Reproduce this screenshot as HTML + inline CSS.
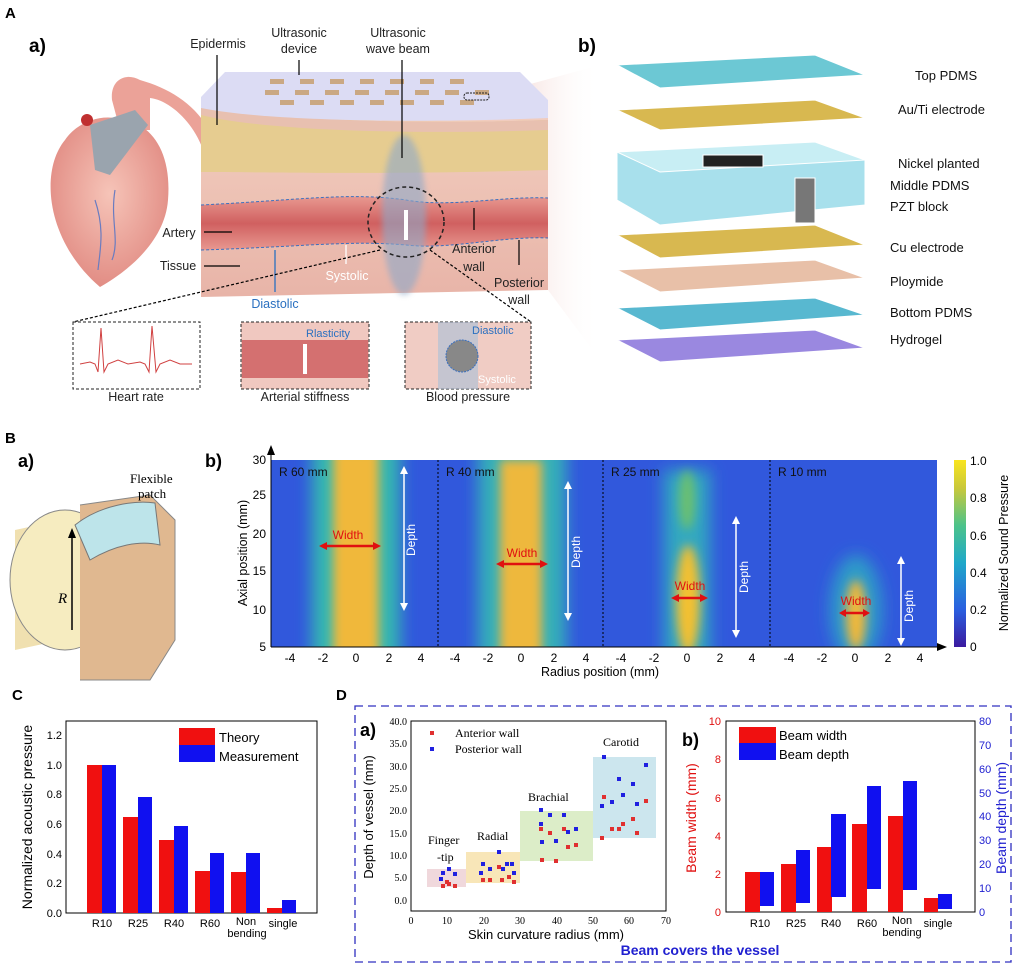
<!DOCTYPE html>
<html><head><meta charset="utf-8"><style>
body{margin:0;background:#fff;}
svg{display:block;font-family:"Liberation Sans",sans-serif;}
</style></head><body>
<svg width="1024" height="970" viewBox="0 0 1024 970" xmlns="http://www.w3.org/2000/svg">
<defs>
<linearGradient id="cb" x1="0" y1="1" x2="0" y2="0">
<stop offset="0" stop-color="#3b1a9f"/><stop offset="0.2" stop-color="#2a5fe0"/><stop offset="0.45" stop-color="#1fa8c9"/><stop offset="0.65" stop-color="#4cc38a"/><stop offset="0.85" stop-color="#c9c83a"/><stop offset="1" stop-color="#f9e51e"/></linearGradient>
<filter id="bl" x="-50%" y="-50%" width="200%" height="200%"><feGaussianBlur stdDeviation="8"/></filter>
<filter id="bl2" x="-50%" y="-50%" width="200%" height="200%"><feGaussianBlur stdDeviation="5"/></filter>
<filter id="bl3" x="-50%" y="-50%" width="200%" height="200%"><feGaussianBlur stdDeviation="3"/></filter>
<radialGradient id="heart" cx="0.5" cy="0.45" r="0.6"><stop offset="0" stop-color="#f6c4b8"/><stop offset="1" stop-color="#e08880"/></radialGradient>
<linearGradient id="tissue" x1="0" y1="0" x2="0" y2="1"><stop offset="0" stop-color="#f2cfc0"/><stop offset="1" stop-color="#e8b4a8"/></linearGradient>
<linearGradient id="art" x1="0" y1="0" x2="0" y2="1"><stop offset="0" stop-color="#e89890"/><stop offset="0.5" stop-color="#d06060"/><stop offset="1" stop-color="#e89890"/></linearGradient>
<linearGradient id="fan" x1="0" y1="0" x2="1" y2="0"><stop offset="0" stop-color="#e8b0a8"/><stop offset="1" stop-color="#fff" stop-opacity="0"/></linearGradient>
<clipPath id="hm"><rect x="271" y="460" width="666" height="187"/></clipPath>
</defs>

<!-- Panel A -->
<text x="5" y="18" font-size="15" font-weight="bold">A</text>
<text x="29" y="52" font-size="19" font-weight="bold">a)</text>
<text x="578" y="52" font-size="19" font-weight="bold">b)</text>
<!-- fan to b -->
<path d="M490 95 L600 65 L600 360 L548 290Z" fill="url(#fan)" opacity="0.7"/>
<!-- heart -->
<path d="M112 100 C110 80 125 72 140 80 C175 90 205 110 218 150 L232 232 L222 236 L206 160 C198 125 170 100 150 98 L150 130 L120 130Z" fill="#eba298"/>
<path d="M65 140 C40 170 45 240 100 287 C130 270 165 240 168 200 C172 150 150 120 115 118 C95 115 75 125 65 140Z" fill="url(#heart)"/>
<path d="M90 125 L135 110 L148 125 L110 175 L95 170Z" fill="#9aa4ae"/>
<path d="M95 200 C105 230 100 250 98 270 M115 190 C110 220 120 240 112 260" stroke="#6a7cc0" fill="none" stroke-width="1.2"/>
<circle cx="87" cy="120" r="6" fill="#c03030"/>
<!-- skin block -->
<path d="M201 100 L548 100 L548 290 L201 297Z" fill="url(#tissue)"/>
<path d="M201 103 C260 120 400 125 548 120 L548 170 C400 175 260 172 201 172Z" fill="#e6cc90"/>
<path d="M201 103 C260 120 400 125 548 120 L548 130 C400 135 260 130 201 115Z" fill="#e8c0b0"/>
<path d="M201 97 L225 72 L520 72 L548 100 L548 118 C400 124 260 120 201 108Z" fill="#dcdcf4"/>
<g fill="#c8a070" opacity="0.85">
<rect x="270" y="79" width="14" height="5"/><rect x="300" y="79" width="14" height="5"/><rect x="330" y="79" width="14" height="5"/><rect x="360" y="79" width="14" height="5"/><rect x="390" y="79" width="14" height="5"/><rect x="420" y="79" width="14" height="5"/><rect x="450" y="79" width="14" height="5"/>
<rect x="265" y="90" width="14" height="5"/><rect x="295" y="90" width="14" height="5"/><rect x="325" y="90" width="14" height="5"/><rect x="355" y="90" width="14" height="5"/><rect x="385" y="90" width="14" height="5"/><rect x="415" y="90" width="14" height="5"/><rect x="445" y="90" width="14" height="5"/><rect x="475" y="90" width="14" height="5"/>
<rect x="280" y="100" width="14" height="5"/><rect x="310" y="100" width="14" height="5"/><rect x="340" y="100" width="14" height="5"/><rect x="370" y="100" width="14" height="5"/><rect x="400" y="100" width="14" height="5"/><rect x="430" y="100" width="14" height="5"/><rect x="460" y="100" width="14" height="5"/>
</g>
<rect x="464" y="93" width="25" height="7" rx="3" fill="none" stroke="#222" stroke-dasharray="2 1"/>
<path d="M201 205 C300 200 350 192 406 200 C450 208 500 196 548 198 L548 238 C500 236 450 250 406 245 C350 240 300 247 201 250Z" fill="url(#art)"/>
<path d="M201 205 C300 200 350 192 406 200 C450 208 500 196 548 198" stroke="#3a70c0" fill="none" stroke-dasharray="3 2"/>
<path d="M201 250 C300 247 350 240 406 245 C450 250 500 236 548 238" stroke="#3a70c0" fill="none" stroke-dasharray="3 2"/>
<ellipse cx="404" cy="215" rx="22" ry="80" fill="#8ea8c8" opacity="0.6" filter="url(#bl3)"/>
<ellipse cx="406" cy="222" rx="38" ry="35" fill="none" stroke="#222" stroke-dasharray="4 3" stroke-width="1.5"/>
<line x1="406" y1="210" x2="406" y2="240" stroke="#fff" stroke-width="4"/>
<g stroke="#000" stroke-width="1.2" fill="none">
<line x1="217" y1="55" x2="217" y2="125"/><line x1="299" y1="60" x2="299" y2="75"/><line x1="402" y1="60" x2="402" y2="158"/>
<line x1="204" y1="232" x2="232" y2="232"/><line x1="204" y1="266" x2="240" y2="266"/>
<line x1="474" y1="230" x2="474" y2="208"/><line x1="519" y1="265" x2="519" y2="240"/>
</g>
<line x1="275" y1="292" x2="275" y2="250" stroke="#2a70c0" stroke-width="1.3"/>
<line x1="346" y1="264" x2="346" y2="245" stroke="#fff" stroke-width="1.3"/>
<g stroke="#000" stroke-dasharray="3 2" stroke-width="1.2"><line x1="380" y1="250" x2="73" y2="322"/><line x1="430" y1="250" x2="531" y2="322"/></g>
<g font-size="12.5" fill="#222" text-anchor="middle">
<text x="218" y="48">Epidermis</text>
<text x="299" y="37">Ultrasonic</text><text x="299" y="53">device</text>
<text x="398" y="37">Ultrasonic</text><text x="398" y="53">wave beam</text>
<text x="179" y="237">Artery</text>
<text x="178" y="270">Tissue</text>
<text x="474" y="253">Anterior</text><text x="474" y="271">wall</text>
<text x="519" y="287">Posterior</text><text x="519" y="304">wall</text>
<text x="347" y="280" fill="#fff">Systolic</text>
<text x="275" y="308" fill="#2a70c0">Diastolic</text>
<text x="136" y="401">Heart rate</text>
<text x="305" y="401">Arterial stiffness</text>
<text x="468" y="401">Blood pressure</text>
</g>
<rect x="73" y="322" width="127" height="67" fill="#fff" stroke="#222" stroke-dasharray="3 2"/>
<path d="M80 364 L90 362 L95 364 L98 372 L101 328 L104 372 L108 364 L118 360 L128 364 L140 362 L145 364 L149 372 L152 326 L156 372 L160 364 L170 360 L180 364 L192 364" fill="none" stroke="#d04040"/>
<rect x="241" y="322" width="128" height="67" fill="#f0c8c0" stroke="#222" stroke-dasharray="3 2"/>
<rect x="242" y="340" width="126" height="38" fill="#d47070"/>
<line x1="305" y1="344" x2="305" y2="374" stroke="#fff" stroke-width="4"/>
<text x="306" y="337" font-size="11" fill="#2a70c0">Rlasticity</text>
<rect x="405" y="322" width="126" height="67" fill="#f0ccc4" stroke="#222" stroke-dasharray="3 2"/>
<rect x="438" y="322" width="40" height="67" fill="#a8c0d8" opacity="0.6"/>
<circle cx="462" cy="356" r="16" fill="#888" stroke="#3a70c0" stroke-dasharray="2 1"/>
<text x="472" y="334" font-size="11" fill="#2a70c0">Diastolic</text>
<text x="478" y="383" font-size="11" fill="#fff">Systolic</text>

<g stroke="#fff" stroke-width="1">
<path d="M617 65 L815 55 L865 75 L660 88Z" fill="#6cc8d4"/>
<path d="M617 110 L815 100 L865 118 L660 130Z" fill="#d8b850"/>
<path d="M617 152 L815 142 L865 160 L865 205 L660 225 L617 200Z" fill="#a8e0ec"/>
<path d="M617 152 L815 142 L865 160 L660 172Z" fill="#c8eef4"/>
<rect x="703" y="155" width="60" height="12" fill="#222"/>
<rect x="795" y="178" width="20" height="45" fill="#777"/>
<path d="M617 235 L815 225 L865 245 L660 258Z" fill="#d8b850"/>
<path d="M617 270 L815 260 L865 278 L660 292Z" fill="#e8c0a8"/>
<path d="M617 308 L815 298 L865 315 L660 330Z" fill="#58b8d0"/>
<path d="M617 340 L815 330 L865 348 L660 362Z" fill="#9a88e0"/>
</g>
<g font-size="13" fill="#111">
<text x="915" y="80">Top PDMS</text>
<text x="898" y="114">Au/Ti electrode</text>
<text x="898" y="168">Nickel planted</text>
<text x="890" y="190">Middle PDMS</text>
<text x="890" y="211">PZT block</text>
<text x="890" y="252">Cu electrode</text>
<text x="890" y="286">Ploymide</text>
<text x="890" y="317">Bottom PDMS</text>
<text x="890" y="344">Hydrogel</text>
</g>

<!-- Panel B -->
<text x="5" y="443" font-size="15" font-weight="bold">B</text>
<text x="18" y="467" font-size="18" font-weight="bold">a)</text>
<text x="205" y="467" font-size="18" font-weight="bold">b)</text>
<path d="M15 530 L155 500 L155 620 L15 650Z" fill="#f0e0b0"/>
<ellipse cx="65" cy="580" rx="55" ry="70" fill="#f6ecc0" stroke="#888"/>
<path d="M80 505 L150 495 L175 520 L175 640 L150 680 L80 680" fill="#e0b890" stroke="#888"/>
<path d="M75 525 C100 505 135 500 155 503 L160 545 C140 540 115 545 90 560Z" fill="#bde4ea" stroke="#777"/>
<line x1="72" y1="630" x2="72" y2="535" stroke="#000" stroke-width="1.5"/>
<polygon points="72,528 68,538 76,538"/>
<text x="58" y="603" font-size="15" font-style="italic" font-family="Liberation Serif,serif">R</text>
<text x="130" y="483" font-size="13" font-family="Liberation Serif,serif">Flexible</text>
<text x="138" y="498" font-size="13" font-family="Liberation Serif,serif">patch</text>

<g clip-path="url(#hm)">
<rect x="271" y="460" width="666" height="187" fill="#3158dc"/>
<g filter="url(#bl)">
<rect x="312" y="440" width="88" height="230" fill="#34b8b0"/>
<rect x="478" y="440" width="88" height="230" fill="#34b0b8"/>
<rect x="664" y="470" width="46" height="200" fill="#30a8c0"/>
<ellipse cx="856" cy="610" rx="26" ry="55" fill="#2f9cc8"/>
</g>
<g filter="url(#bl2)">
<rect x="333" y="450" width="46" height="210" fill="#f0b83a"/>
<rect x="500" y="460" width="42" height="200" fill="#eeb83c"/>
<ellipse cx="688" cy="600" rx="12" ry="55" fill="#f2c030"/>
<ellipse cx="687" cy="500" rx="8" ry="30" fill="#6cc070"/>
<ellipse cx="856" cy="615" rx="10" ry="35" fill="#f0b83a"/>
</g>
</g>
<g stroke="#000" stroke-dasharray="2 2"><line x1="438" y1="460" x2="438" y2="647"/><line x1="603" y1="460" x2="603" y2="647"/><line x1="770" y1="460" x2="770" y2="647"/></g>
<line x1="271" y1="452" x2="271" y2="647" stroke="#000"/><polygon points="271,445 267,455 275,455"/>
<line x1="271" y1="647" x2="940" y2="647" stroke="#000"/><polygon points="947,647 937,643 937,651"/>
<g font-size="12" fill="#111">
<text x="279" y="476">R 60 mm</text><text x="446" y="476">R 40 mm</text><text x="611" y="476">R 25 mm</text><text x="778" y="476">R 10 mm</text>
</g>
<g font-size="12" text-anchor="end">
<text x="266" y="464">30</text><text x="266" y="499">25</text><text x="266" y="538">20</text><text x="266" y="575">15</text><text x="266" y="614">10</text><text x="266" y="651">5</text>
</g>
<text transform="translate(247 553) rotate(-90)" font-size="12.5" text-anchor="middle">Axial position (mm)</text>
<g font-size="12" text-anchor="middle">
<text x="290" y="662">-4</text><text x="323" y="662">-2</text><text x="356" y="662">0</text><text x="389" y="662">2</text><text x="421" y="662">4</text>
<text x="455" y="662">-4</text><text x="488" y="662">-2</text><text x="521" y="662">0</text><text x="554" y="662">2</text><text x="586" y="662">4</text>
<text x="621" y="662">-4</text><text x="654" y="662">-2</text><text x="687" y="662">0</text><text x="720" y="662">2</text><text x="752" y="662">4</text>
<text x="789" y="662">-4</text><text x="822" y="662">-2</text><text x="855" y="662">0</text><text x="888" y="662">2</text><text x="920" y="662">4</text>
</g>
<text x="600" y="676" font-size="12.5" text-anchor="middle">Radius position (mm)</text>
<g stroke="#e01010" stroke-width="2.5">
<line x1="324" y1="546" x2="376" y2="546"/><line x1="501" y1="564" x2="543" y2="564"/><line x1="675" y1="598" x2="704" y2="598"/><line x1="843" y1="613" x2="866" y2="613"/>
</g>
<g fill="#e01010"><polygon points="319,546 327,542 327,550"/><polygon points="381,546 373,542 373,550"/><polygon points="496,564 504,560 504,568"/><polygon points="548,564 540,560 540,568"/><polygon points="671,598 679,594 679,602"/><polygon points="708,598 700,594 700,602"/><polygon points="839,613 846,609 846,617"/><polygon points="870,613 863,609 863,617"/></g>
<g font-size="12" fill="#e01010" text-anchor="middle"><text x="348" y="539">Width</text><text x="522" y="557">Width</text><text x="690" y="590">Width</text><text x="856" y="605">Width</text></g>
<g stroke="#fff" stroke-width="1.5"><line x1="404" y1="472" x2="404" y2="605"/><line x1="568" y1="487" x2="568" y2="615"/><line x1="736" y1="522" x2="736" y2="632"/><line x1="901" y1="562" x2="901" y2="640"/></g>
<g fill="#fff"><polygon points="404,466 400,474 408,474"/><polygon points="404,611 400,603 408,603"/><polygon points="568,481 564,489 572,489"/><polygon points="568,621 564,613 572,613"/><polygon points="736,516 732,524 740,524"/><polygon points="736,638 732,630 740,630"/><polygon points="901,556 897,564 905,564"/><polygon points="901,646 897,638 905,638"/></g>
<g fill="#fff" font-size="12"><text transform="translate(415 540) rotate(-90)" text-anchor="middle">Depth</text><text transform="translate(580 552) rotate(-90)" text-anchor="middle">Depth</text><text transform="translate(748 577) rotate(-90)" text-anchor="middle">Depth</text><text transform="translate(913 606) rotate(-90)" text-anchor="middle">Depth</text></g>
<rect x="954" y="460" width="12" height="187" fill="url(#cb)"/>
<g font-size="12"><text x="970" y="465">1.0</text><text x="970" y="502">0.8</text><text x="970" y="540">0.6</text><text x="970" y="577">0.4</text><text x="970" y="614">0.2</text><text x="970" y="651">0</text></g>
<text transform="translate(1008 553) rotate(-90)" font-size="12.5" text-anchor="middle">Normalized Sound Pressure</text>

<!-- Panel C -->
<text x="12" y="700" font-size="15" font-weight="bold">C</text>
<rect x="66" y="721" width="251" height="192" fill="none" stroke="#000"/>
<g font-size="11" text-anchor="end"><text x="62" y="917">0.0</text><text x="62" y="887">0.2</text><text x="62" y="858">0.4</text><text x="62" y="828">0.6</text><text x="62" y="798">0.8</text><text x="62" y="769">1.0</text><text x="62" y="739">1.2</text></g>
<text transform="translate(32 817) rotate(-90)" font-size="14" text-anchor="middle">Normalized acoustic pressure</text>
<g fill="#f01010"><rect x="87" y="765" width="15" height="148"/><rect x="123" y="817" width="15" height="96"/><rect x="159" y="840" width="15" height="73"/><rect x="195" y="871" width="15" height="42"/><rect x="231" y="872" width="15" height="41"/><rect x="267" y="908" width="15" height="5"/></g>
<g fill="#1010f0"><rect x="102" y="765" width="14" height="148"/><rect x="138" y="797" width="14" height="116"/><rect x="174" y="826" width="14" height="87"/><rect x="210" y="853" width="14" height="60"/><rect x="246" y="853" width="14" height="60"/><rect x="282" y="900" width="14" height="13"/></g>
<g font-size="11" text-anchor="middle"><text x="102" y="927">R10</text><text x="138" y="927">R25</text><text x="174" y="927">R40</text><text x="210" y="927">R60</text><text x="246" y="925">Non</text><text x="247" y="937">bending</text><text x="283" y="927">single</text></g>
<rect x="179" y="728" width="36" height="17" fill="#f01010"/><rect x="179" y="745" width="36" height="17" fill="#1010f0"/>
<text x="219" y="742" font-size="13">Theory</text><text x="219" y="761" font-size="13">Measurement</text>

<!-- Panel D -->
<text x="336" y="700" font-size="15" font-weight="bold">D</text>
<rect x="355" y="706" width="656" height="256" fill="none" stroke="#3030c0" stroke-dasharray="8 5" stroke-width="1.3"/>
<text x="700" y="955" font-size="14" font-weight="bold" fill="#2020d0" text-anchor="middle">Beam covers the vessel</text>
<text x="360" y="736" font-size="18" font-weight="bold">a)</text>
<rect x="411" y="721" width="255" height="190" fill="none" stroke="#000"/>
<g font-size="10" text-anchor="end" font-family="Liberation Serif,serif"><text x="407" y="725">40.0</text><text x="407" y="747">35.0</text><text x="407" y="770">30.0</text><text x="407" y="792">25.0</text><text x="407" y="814">20.0</text><text x="407" y="837">15.0</text><text x="407" y="859">10.0</text><text x="407" y="881">5.0</text><text x="407" y="904">0.0</text></g>
<g font-size="10" text-anchor="middle" font-family="Liberation Serif,serif"><text x="411" y="924">0</text><text x="447" y="924">10</text><text x="484" y="924">20</text><text x="520" y="924">30</text><text x="557" y="924">40</text><text x="593" y="924">50</text><text x="629" y="924">60</text><text x="666" y="924">70</text></g>
<text x="546" y="939" font-size="13" text-anchor="middle">Skin curvature radius (mm)</text>
<text transform="translate(373 817) rotate(-90)" font-size="13" text-anchor="middle">Depth of vessel (mm)</text>
<rect x="427" y="869" width="39" height="18" fill="#f0d8dc"/>
<rect x="466" y="852" width="54" height="31" fill="#f8e6b8"/>
<rect x="520" y="811" width="73" height="50" fill="#dcedc8"/>
<rect x="593" y="757" width="63" height="81" fill="#cce6ee"/>
<g font-size="12" font-family="Liberation Serif,serif"><text x="428" y="844">Finger</text><text x="437" y="861">-tip</text><text x="477" y="840">Radial</text><text x="528" y="801">Brachial</text><text x="603" y="746">Carotid</text>
<text x="455" y="737">Anterior wall</text><text x="455" y="753">Posterior wall</text></g>
<rect x="430" y="731" width="4" height="4" fill="#e03030"/><rect x="430" y="747" width="4" height="4" fill="#2020e0"/>
<g fill="#e03030"><rect x="441" y="884" width="4" height="4"/><rect x="447" y="882" width="4" height="4"/><rect x="453" y="884" width="4" height="4"/><rect x="445" y="880" width="4" height="4"/><rect x="481" y="878" width="4" height="4"/><rect x="488" y="878" width="4" height="4"/><rect x="500" y="878" width="4" height="4"/><rect x="507" y="875" width="4" height="4"/><rect x="512" y="880" width="4" height="4"/><rect x="497" y="865" width="4" height="4"/><rect x="539" y="827" width="4" height="4"/><rect x="548" y="831" width="4" height="4"/><rect x="562" y="827" width="4" height="4"/><rect x="566" y="845" width="4" height="4"/><rect x="574" y="843" width="4" height="4"/><rect x="540" y="858" width="4" height="4"/><rect x="554" y="859" width="4" height="4"/><rect x="602" y="795" width="4" height="4"/><rect x="610" y="827" width="4" height="4"/><rect x="617" y="827" width="4" height="4"/><rect x="621" y="822" width="4" height="4"/><rect x="631" y="817" width="4" height="4"/><rect x="635" y="831" width="4" height="4"/><rect x="644" y="799" width="4" height="4"/><rect x="600" y="836" width="4" height="4"/></g>
<g fill="#2020e0"><rect x="447" y="867" width="4" height="4"/><rect x="441" y="871" width="4" height="4"/><rect x="453" y="872" width="4" height="4"/><rect x="439" y="877" width="4" height="4"/><rect x="481" y="862" width="4" height="4"/><rect x="488" y="867" width="4" height="4"/><rect x="479" y="871" width="4" height="4"/><rect x="497" y="850" width="4" height="4"/><rect x="501" y="867" width="4" height="4"/><rect x="505" y="862" width="4" height="4"/><rect x="510" y="862" width="4" height="4"/><rect x="512" y="871" width="4" height="4"/><rect x="539" y="808" width="4" height="4"/><rect x="548" y="813" width="4" height="4"/><rect x="562" y="813" width="4" height="4"/><rect x="539" y="822" width="4" height="4"/><rect x="540" y="840" width="4" height="4"/><rect x="554" y="839" width="4" height="4"/><rect x="566" y="830" width="4" height="4"/><rect x="574" y="827" width="4" height="4"/><rect x="602" y="755" width="4" height="4"/><rect x="617" y="777" width="4" height="4"/><rect x="631" y="782" width="4" height="4"/><rect x="621" y="793" width="4" height="4"/><rect x="610" y="800" width="4" height="4"/><rect x="600" y="804" width="4" height="4"/><rect x="635" y="802" width="4" height="4"/><rect x="644" y="763" width="4" height="4"/></g>

<text x="682" y="746" font-size="18" font-weight="bold">b)</text>
<rect x="726" y="721" width="249" height="191" fill="none" stroke="#000"/>
<g font-size="11" fill="#e01010" text-anchor="end"><text x="721" y="916">0</text><text x="721" y="878">2</text><text x="721" y="840">4</text><text x="721" y="802">6</text><text x="721" y="763">8</text><text x="721" y="725">10</text></g>
<g font-size="11" fill="#2020d0"><text x="979" y="916">0</text><text x="979" y="892">10</text><text x="979" y="868">20</text><text x="979" y="844">30</text><text x="979" y="820">40</text><text x="979" y="797">50</text><text x="979" y="773">60</text><text x="979" y="749">70</text><text x="979" y="725">80</text></g>
<text transform="translate(696 818) rotate(-90)" font-size="14" fill="#e01010" text-anchor="middle">Beam width (mm)</text>
<text transform="translate(1006 818) rotate(-90)" font-size="14" fill="#2020d0" text-anchor="middle">Beam depth (mm)</text>
<g fill="#f01010"><rect x="745" y="872" width="15" height="40"/><rect x="781" y="864" width="15" height="48"/><rect x="817" y="847" width="15" height="65"/><rect x="852" y="824" width="15" height="88"/><rect x="888" y="816" width="15" height="96"/><rect x="924" y="898" width="14" height="14"/></g>
<g fill="#1010f0"><rect x="760" y="872" width="14" height="34"/><rect x="796" y="850" width="14" height="53"/><rect x="831" y="814" width="15" height="83"/><rect x="867" y="786" width="14" height="103"/><rect x="903" y="781" width="14" height="109"/><rect x="938" y="894" width="14" height="15"/></g>
<g font-size="11" text-anchor="middle"><text x="760" y="927">R10</text><text x="796" y="927">R25</text><text x="831" y="927">R40</text><text x="867" y="927">R60</text><text x="902" y="924">Non</text><text x="902" y="936">bending</text><text x="938" y="927">single</text></g>
<rect x="739" y="727" width="37" height="16" fill="#f01010"/><rect x="739" y="743" width="37" height="17" fill="#1010f0"/>
<text x="779" y="740" font-size="13">Beam width</text><text x="779" y="759" font-size="13">Beam depth</text>
</svg>
</body></html>
